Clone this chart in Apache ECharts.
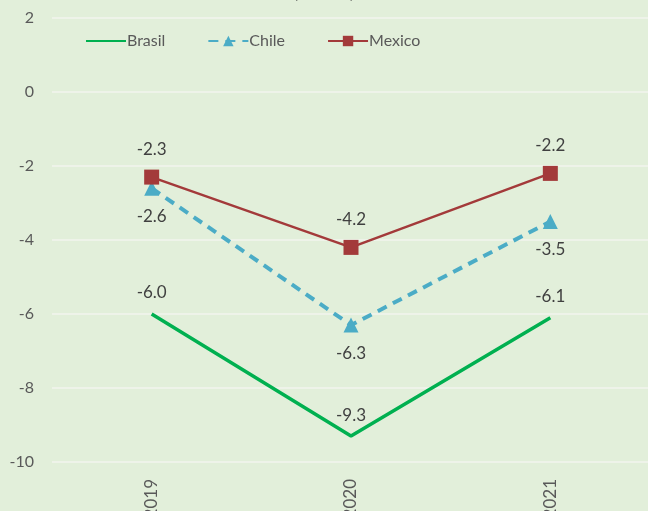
<!DOCTYPE html>
<html><head><meta charset="utf-8">
<script src="https://cdn.jsdelivr.net/npm/echarts@6/dist/echarts.min.js"></script>
<style>html,body{margin:0;padding:0;background:#E2EFDA;}#c{width:648px;height:511px;}</style>
</head><body><div id="c"></div>
<script>
const years = ['2019', '2020', '2021'];
const brasil = [-6.0, -9.3, -6.1];
const chile = [-2.6, -6.3, -3.5];
const mexico = [-2.3, -4.2, -2.2];
const titleText = '(% PIB)';
const font = 'Lato, "Liberation Sans", sans-serif';

const chart = echarts.init(document.getElementById('c'));
const lbl = (pos) => ({show: true, position: pos, distance: 12, color: '#404040', fontSize: 17, fontFamily: font, formatter: p => p.value.toFixed(1)});
chart.setOption({
  backgroundColor: '#E2EFDA',
  animation: false,
  title: {text: titleText, left: 'center', top: -23, textStyle: {fontSize: 20, fontWeight: 'normal', color: '#404040', fontFamily: font}},
  legend: {
    top: 28, left: 80, itemGap: 42, itemWidth: 40, itemHeight: 13,
    textStyle: {color: '#595959', fontSize: 16, fontFamily: font, padding: [0,0,0,-4]},
    data: ['Brasil', 'Chile', 'Mexico']
  },
  grid: {left: 52, right: -2, top: 18, bottom: 49, containLabel: false, outerBoundsMode: 'none'},
  xAxis: {
    type: 'category', data: years, boundaryGap: true,
    axisLine: {show: false}, axisTick: {show: false},
    axisLabel: {rotate: 90, color: '#595959', fontSize: 17, fontFamily: font, margin: 17}
  },
  yAxis: {
    type: 'value', min: -10, max: 2, interval: 2,
    axisLine: {show: false}, axisTick: {show: false},
    axisLabel: {color: '#595959', fontSize: 16, fontFamily: font, margin: 18},
    splitLine: {lineStyle: {color: '#F2F5EE', width: 1.5}}
  },
  series: [
    {name: 'Brasil', type: 'line', data: brasil, symbol: 'circle', symbolSize: 1, lineStyle: {color: '#00B050', width: 3.5}, itemStyle: {color: 'rgba(0,0,0,0)'}, label: lbl('top')},
    {name: 'Chile', type: 'line', data: chile, symbol: 'triangle', symbolSize: 15, lineStyle: {color: '#4BACC6', width: 4, type: [10, 7]}, itemStyle: {color: '#4BACC6'}, label: lbl('bottom')},
    {name: 'Mexico', type: 'line', data: mexico, symbol: 'rect', symbolSize: 15, lineStyle: {color: '#A33A3A', width: 2.5}, itemStyle: {color: '#A33A3A'}, label: lbl('top')}
  ]
});
</script></body></html>
